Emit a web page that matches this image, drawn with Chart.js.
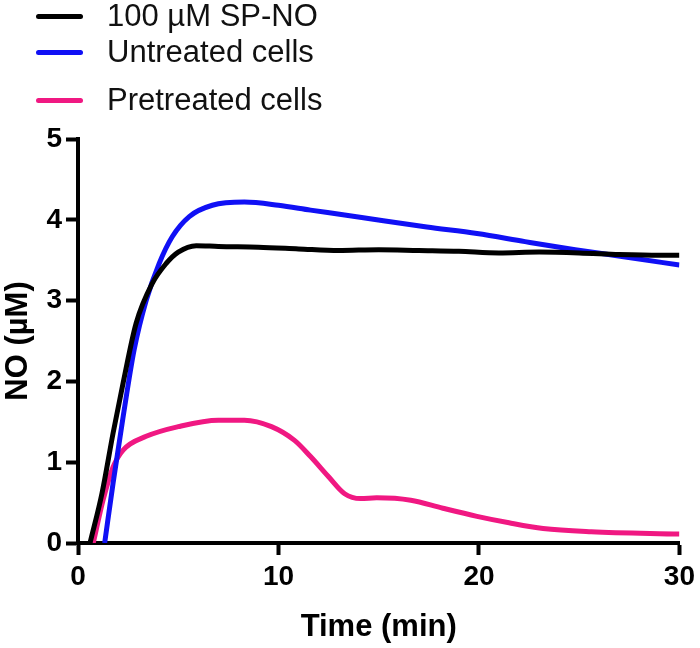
<!DOCTYPE html>
<html>
<head>
<meta charset="utf-8">
<script src="https://cdn.jsdelivr.net/npm/chart.js@4/dist/chart.umd.min.js"></script>
<style>
  html, body { margin: 0; padding: 0; background: #fff; }
  #wrap { position: relative; width: 700px; height: 648px; }
  #legend { position: absolute; left: 0; top: 0; font-family: "Liberation Sans", Arial, sans-serif; font-size: 31px; color: #111; }
  .row { position: absolute; left: 36px; height: 30px; display: flex; align-items: center; white-space: nowrap; }
  .swatch { width: 47px; height: 5px; border-radius: 3px; margin-right: 24px; }
</style>
</head>
<body>
<div id="wrap">
  <canvas id="chart" width="700" height="648"></canvas>
  <div id="legend"></div>
</div>
<script>
// series (time in min, NO in µM)
const seriesNames = ["100 µM SP-NO", "Untreated cells", "Pretreated cells"];
const seriesColors = ["#000000", "#1010f5", "#f01882"];

const timeSpNo = [0.6, 1.2, 1.75, 2.25, 2.9, 3.7, 4.4, 5.0, 5.9, 7, 9, 11, 13, 15, 17, 19, 21, 23, 25, 27, 29, 30];
const spNo = [0, 0.62, 1.36, 1.98, 2.72, 3.21, 3.46, 3.6, 3.68, 3.67, 3.66, 3.64, 3.62, 3.63, 3.62, 3.61, 3.59, 3.6, 3.59, 3.57, 3.56, 3.56];

const timeUntreated = [1.33, 1.75, 2.25, 2.8, 3.4, 4.05, 4.7, 5.55, 6.7, 8.3, 10, 11.6, 13.3, 14.9, 17.4, 19.9, 22.3, 24.8, 27.3, 30];
const untreated = [0, 0.74, 1.56, 2.39, 3.0, 3.46, 3.79, 4.04, 4.18, 4.22, 4.18, 4.12, 4.06, 4.0, 3.91, 3.83, 3.73, 3.63, 3.54, 3.44];

const timePretreated = [0.76, 1.25, 1.75, 2.25, 3.4, 5.0, 7.0, 8.3, 9.65, 10.8, 11.6, 12.5, 13.3, 14.1, 14.9, 16.6, 18.2, 19.9, 21.5, 23.2, 25.6, 30];
const pretreated = [0, 0.53, 0.94, 1.15, 1.32, 1.44, 1.52, 1.52, 1.44, 1.27, 1.07, 0.82, 0.61, 0.55, 0.56, 0.53, 0.43, 0.33, 0.25, 0.18, 0.14, 0.11];

const xTicks = [0, 10, 20, 30];
const yTicks = [0, 1, 2, 3, 4, 5];

function points(xs, ys) {
  return xs.map((x, i) => ({ x: x, y: ys[i] }));
}

const allSeries = [
  points(timeSpNo, spNo),
  points(timeUntreated, untreated),
  points(timePretreated, pretreated),
];

// legend as html, built from names + colours
const legendTops = [1, 37, 85];
const legend = document.getElementById("legend");
seriesNames.forEach((name, i) => {
  const row = document.createElement("div");
  row.className = "row";
  row.style.top = legendTops[i] + "px";
  row.innerHTML = '<span class="swatch" style="background:' + seriesColors[i] + '"></span><span>' + name + "</span>";
  legend.appendChild(row);
});

const tickFont = { family: "'Liberation Sans', Arial, sans-serif", size: 28, weight: "bold" };
const titleFont = { family: "'Liberation Sans', Arial, sans-serif", size: 31, weight: "bold" };

new Chart(document.getElementById("chart"), {
  type: "line",
  data: {
    datasets: allSeries.map((pts, i) => ({
      label: seriesNames[i],
      data: pts,
      borderColor: seriesColors[i],
      borderWidth: 5,
      pointRadius: 0,
      fill: false,
      cubicInterpolationMode: "monotone",
    })),
  },
  options: {
    responsive: false,
    animation: false,
    devicePixelRatio: 1,
    layout: { padding: { top: 139, right: 15, left: 0, bottom: 0 } },
    plugins: { legend: { display: false }, tooltip: { enabled: false } },
    scales: {
      x: {
        type: "linear",
        min: 0,
        max: 30,
        afterBuildTicks: (s) => { s.ticks = xTicks.map((v) => ({ value: v })); },
        afterFit: (s) => { s.height = 105; },
        ticks: { font: tickFont, color: "#000", padding: 5, maxRotation: 0 },
        grid: { drawOnChartArea: false, drawTicks: true, tickLength: 12, tickWidth: 4, tickColor: "#000" },
        border: { display: true, color: "#000", width: 4 },
        title: { display: true, text: "Time (min)", font: titleFont, color: "#000", padding: { top: 0, bottom: 2 } },
      },
      y: {
        type: "linear",
        min: 0,
        max: 5,
        afterBuildTicks: (s) => { s.ticks = yTicks.map((v) => ({ value: v })); },
        afterFit: (s) => { s.width = 78; },
        ticks: { font: tickFont, color: "#000", padding: 4 },
        grid: { drawOnChartArea: false, drawTicks: true, tickLength: 12, tickWidth: 4, tickColor: "#000" },
        border: { display: true, color: "#000", width: 4 },
        title: { display: true, text: "NO (µM)", font: titleFont, color: "#000", padding: { top: 0, bottom: 0 } },
      },
    },
  },
});
</script>
</body>
</html>
